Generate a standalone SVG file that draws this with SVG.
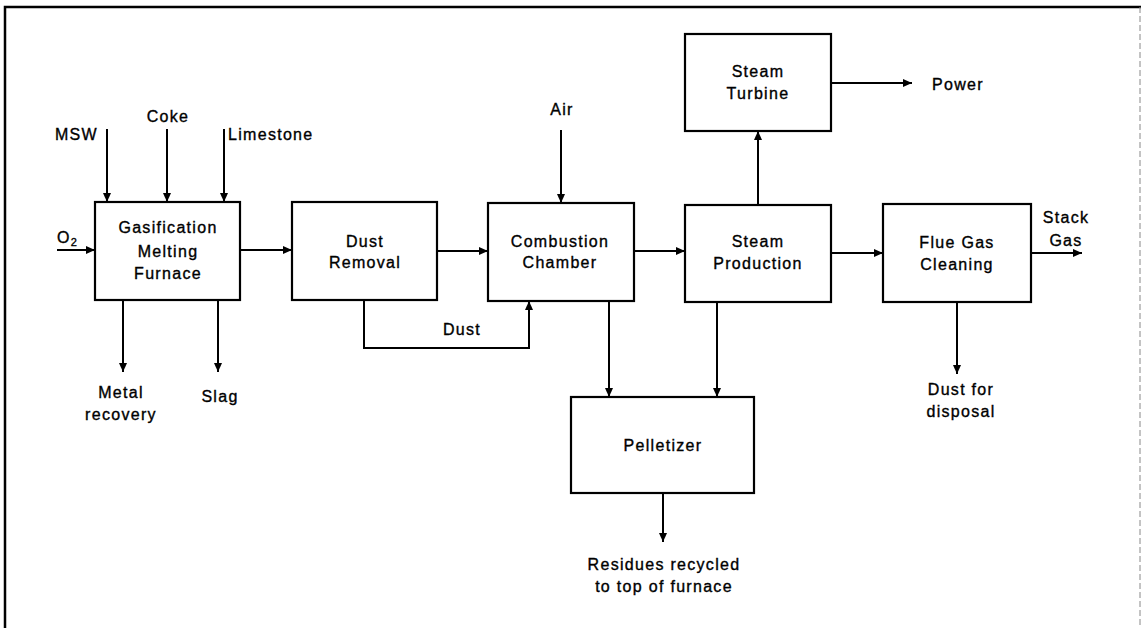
<svg xmlns="http://www.w3.org/2000/svg" width="1141" height="628" viewBox="0 0 1141 628">
<style>
.box{fill:#fff;stroke:#000;stroke-width:2.2}
.ln{fill:none;stroke:#000;stroke-width:2}
.t{font-family:"Liberation Sans",Arial,sans-serif;font-size:16px;letter-spacing:1.3px;fill:#000;stroke:#000;stroke-width:0.35;text-anchor:middle}
.s{text-anchor:start}
.e{text-anchor:end}
</style>
<defs>
<marker id="ah" markerUnits="userSpaceOnUse" markerWidth="11" markerHeight="11" viewBox="0 0 11 11" refX="10" refY="5.5" orient="auto">
<path d="M1,1.5 L10,5.5 L1,9.5 Z" fill="#000"/>
</marker>
</defs>
<rect width="1141" height="628" fill="#fff"/>
<g id="frame">
<path d="M5,628 V7 H1141" fill="none" stroke="#000" stroke-width="2.5"/>
<path d="M1140,7 V628" fill="none" stroke="#888" stroke-width="1" stroke-dasharray="6 3"/>
</g>
<g id="connectors">
<path class="ln" d="M107,129 V202" marker-end="url(#ah)"/>
<path class="ln" d="M167,129 V202" marker-end="url(#ah)"/>
<path class="ln" d="M224,129 V202" marker-end="url(#ah)"/>
<path class="ln" d="M57,250 H95" marker-end="url(#ah)"/>
<path class="ln" d="M240,250 H292" marker-end="url(#ah)"/>
<path class="ln" d="M437,251 H488" marker-end="url(#ah)"/>
<path class="ln" d="M634,251 H685" marker-end="url(#ah)"/>
<path class="ln" d="M831,253 H883" marker-end="url(#ah)"/>
<path class="ln" d="M1031,253 H1082" marker-end="url(#ah)"/>
<path class="ln" d="M561,130 V203" marker-end="url(#ah)"/>
<path class="ln" d="M758,205 V131" marker-end="url(#ah)"/>
<path class="ln" d="M831,83 H912" marker-end="url(#ah)"/>
<path class="ln" d="M123,300 V372" marker-end="url(#ah)"/>
<path class="ln" d="M218,300 V372" marker-end="url(#ah)"/>
<path class="ln" d="M364,300 V348 H529 V301" marker-end="url(#ah)"/>
<path class="ln" d="M609,301 V397" marker-end="url(#ah)"/>
<path class="ln" d="M717,302 V397" marker-end="url(#ah)"/>
<path class="ln" d="M663,493 V542" marker-end="url(#ah)"/>
<path class="ln" d="M957,302 V374" marker-end="url(#ah)"/>
</g>
<g id="gasification">
<rect class="box" x="95" y="202" width="145" height="98"/>
<text class="t" x="168" y="233">Gasification</text>
<text class="t" x="168" y="257">Melting</text>
<text class="t" x="168" y="279">Furnace</text>
</g>
<g id="dust-removal">
<rect class="box" x="292" y="202" width="145" height="98"/>
<text class="t" x="365" y="247">Dust</text>
<text class="t" x="365" y="268">Removal</text>
</g>
<g id="combustion">
<rect class="box" x="488" y="203" width="146" height="98"/>
<text class="t" x="560" y="247">Combustion</text>
<text class="t" x="560" y="268">Chamber</text>
</g>
<g id="steam-turbine">
<rect class="box" x="685" y="34" width="146" height="97"/>
<text class="t" x="758" y="77">Steam</text>
<text class="t" x="758" y="99">Turbine</text>
</g>
<g id="steam-production">
<rect class="box" x="685" y="205" width="146" height="97"/>
<text class="t" x="758" y="247">Steam</text>
<text class="t" x="758" y="269">Production</text>
</g>
<g id="flue-gas">
<rect class="box" x="883" y="204" width="148" height="98"/>
<text class="t" x="957" y="248">Flue Gas</text>
<text class="t" x="957" y="270">Cleaning</text>
</g>
<g id="pelletizer">
<rect class="box" x="571" y="397" width="183" height="96"/>
<text class="t" x="663" y="451">Pelletizer</text>
</g>
<g id="labels">
<text class="t e" x="98" y="140">MSW</text>
<text class="t" x="168" y="122">Coke</text>
<text class="t s" x="228" y="140">Limestone</text>
<text class="t s" x="57" y="243">O<tspan font-size="11" dy="3">2</tspan></text>
<text class="t" x="562" y="115">Air</text>
<text class="t s" x="932" y="90">Power</text>
<text class="t" x="1066" y="223">Stack</text>
<text class="t" x="1066" y="246">Gas</text>
<text class="t" x="121" y="398">Metal</text>
<text class="t" x="121" y="420">recovery</text>
<text class="t" x="220" y="402">Slag</text>
<text class="t" x="462" y="335">Dust</text>
<text class="t" x="664" y="570">Residues recycled</text>
<text class="t" x="664" y="592">to top of furnace</text>
<text class="t" x="961" y="395">Dust for</text>
<text class="t" x="961" y="417">disposal</text>
</g>
</svg>
